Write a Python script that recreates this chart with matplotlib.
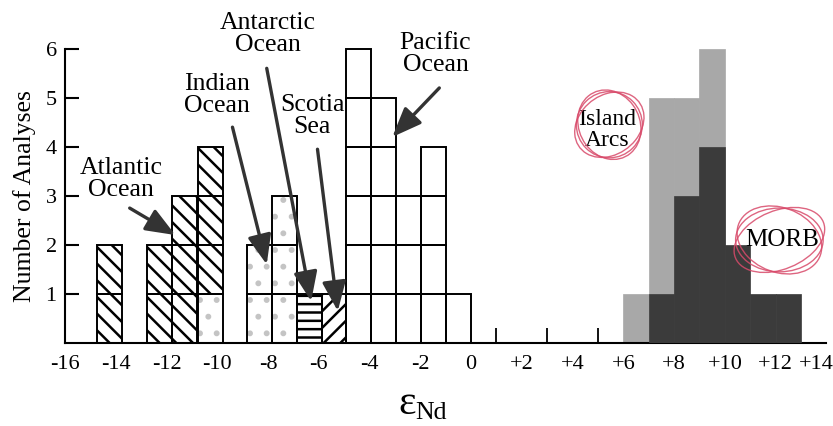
import matplotlib
matplotlib.use("Agg")
import matplotlib.pyplot as plt
from matplotlib.patches import Ellipse
from matplotlib.transforms import ScaledTranslation

plt.rcParams['font.family'] = ['Liberation Serif', 'DejaVu Serif']
plt.rcParams['hatch.linewidth'] = 1.8

# bin left edges (eNd units) and number of analyses
atlantic_x = [-14.75, -12.78, -11.77, -10.77]
atlantic_n = [2, 2, 3, 3]
indian_x = [-10.77, -8.84, -7.84]
indian_n = [1, 2, 3]
antarctic_x = [-6.84]
antarctic_n = [1]
scotia_x = [-5.88]
scotia_n = [1]
pacific_x = [-4.91, -3.93, -2.95, -1.97, -0.98]
pacific_n = [6, 5, 3, 4, 1]

arcs_x = [6, 7, 8, 9]
arcs_n = [1, 5, 5, 6]
morb_x = [7, 8, 9, 10, 11, 12]
morb_n = [1, 3, 4, 2, 1, 1]

xtick_vals = list(range(-16, 15, 2))
xtick_labels = ['-16', '-14', '-12', '-10', '-8', '-6', '-4', '-2', '0',
                '+2', '+4', '+6', '+8', '+10', '+12', '+14']

fig = plt.figure(figsize=(8.33, 4.26), dpi=100)
ax = fig.add_axes([0.078, 0.195, 0.914, 0.8])
ax.set_xlim(-16, 14)
ax.set_ylim(0, 6.95)

stack = {}


def cells(xs, ns, hatch, hcolor, w=0.98):
    for x, n in zip(xs, ns):
        key = round(x, 2)
        base = stack.get(key, 0)
        for k in range(n):
            ax.bar(x, 1, w, bottom=base + k, align='edge', color='white',
                   edgecolor=hcolor, hatch=hatch, linewidth=0, zorder=2)
            ax.bar(x, 1, w, bottom=base + k, align='edge', fill=False,
                   edgecolor='black', linewidth=1.4, zorder=3)
        stack[key] = base + n


cells(indian_x, indian_n, '.', '#c4c4c4')
cells(atlantic_x, atlantic_n, '\\\\', 'black')
cells(antarctic_x, antarctic_n, '--', 'black', w=0.96)
cells(scotia_x, scotia_n, '//', 'black', w=0.97)
cells(pacific_x, pacific_n, None, 'black')

ax.bar(arcs_x, arcs_n, 1, align='edge', color='#a8a8a8', edgecolor='#a8a8a8',
       linewidth=0.5, zorder=2)
ax.bar(morb_x, morb_n, 1, align='edge', color='#3b3b3b', edgecolor='#3b3b3b',
       linewidth=0.5, zorder=3)

# axes
for s in ['top', 'right']:
    ax.spines[s].set_visible(False)
ax.spines['left'].set_bounds(0, 6)
ax.spines['bottom'].set_bounds(-16, 14)
ax.spines['left'].set_linewidth(1.5)
ax.spines['bottom'].set_linewidth(1.5)

ax.set_xticks(xtick_vals)
ax.set_xticklabels(xtick_labels)
ax.set_xticks([1, 2, 3, 4, 5, 14], minor=True)
ax.tick_params(axis='x', which='major', length=0, pad=9, labelsize=16)
ax.tick_params(axis='x', which='minor', direction='in', length=11, width=1.3)
ax.set_yticks(range(1, 7))
ax.tick_params(axis='y', direction='in', length=10, width=1.5, pad=6, labelsize=16)
# last label sits against the right edge
last = ax.get_xticklabels()[-1]
last.set_transform(last.get_transform() + ScaledTranslation(-10 / 100, 0, fig.dpi_scale_trans))

fig.text(25 / 833, 1 - 196 / 426, 'Number of Analyses', rotation=90,
         ha='center', va='center', fontsize=18.5)
# epsilon with Nd subscript
fig.text(416 / 833, 1 - 404 / 426, 'ε', ha='right', va='center', fontsize=30)
fig.text(415 / 833, 1 - 413 / 426, 'Nd', ha='left', va='center', fontsize=18.5)

# labels and arrows
arrow = dict(arrowstyle='-|>,head_length=0.9,head_width=0.36', lw=2.4,
             color='#333333', shrinkA=0, shrinkB=0, mutation_scale=20)
notes = [
    ('Atlantic\nOcean', (-13.8, 3.35), (-13.45, 2.75), (-11.65, 2.2)),
    ('Indian\nOcean', (-10.0, 5.05), (-9.4, 4.4), (-8.05, 1.6)),
    ('Antarctic\nOcean', (-8.0, 6.3), (-8.05, 5.6), (-6.3, 0.85)),
    ('Scotia\nSea', (-6.25, 4.62), (-6.05, 3.95), (-5.25, 0.65)),
    ('Pacific\nOcean', (-1.4, 5.9), (-1.25, 5.2), (-3.1, 4.2)),
]
for txt, pos, start, tip in notes:
    ax.text(pos[0], pos[1], txt, ha='center', va='center', fontsize=18.5,
            linespacing=1.0)
    ax.annotate('', xy=tip, xytext=start, arrowprops=arrow, zorder=5)

ax.text(5.35, 4.35, 'Island\nArcs', ha='center', va='center', fontsize=17,
        linespacing=1.0)
ax.text(12.25, 2.1, 'MORB', ha='center', va='center', fontsize=18)

# red pen circles
for dw, dh, ang in [(0, 0, 0), (0.15, -0.06, 8), (-0.1, 0.05, -6)]:
    ax.add_patch(Ellipse((5.45, 4.45), 2.6 + dw, 1.35 + dh, angle=ang,
                         fill=False, edgecolor='#d84a6a', lw=1.0, alpha=0.85,
                         zorder=6))
    ax.add_patch(Ellipse((12.15, 2.1), 3.45 + dw, 1.3 + dh, angle=ang,
                         fill=False, edgecolor='#d84a6a', lw=1.0, alpha=0.85,
                         zorder=6))

fig.savefig('out.png', dpi=100)
